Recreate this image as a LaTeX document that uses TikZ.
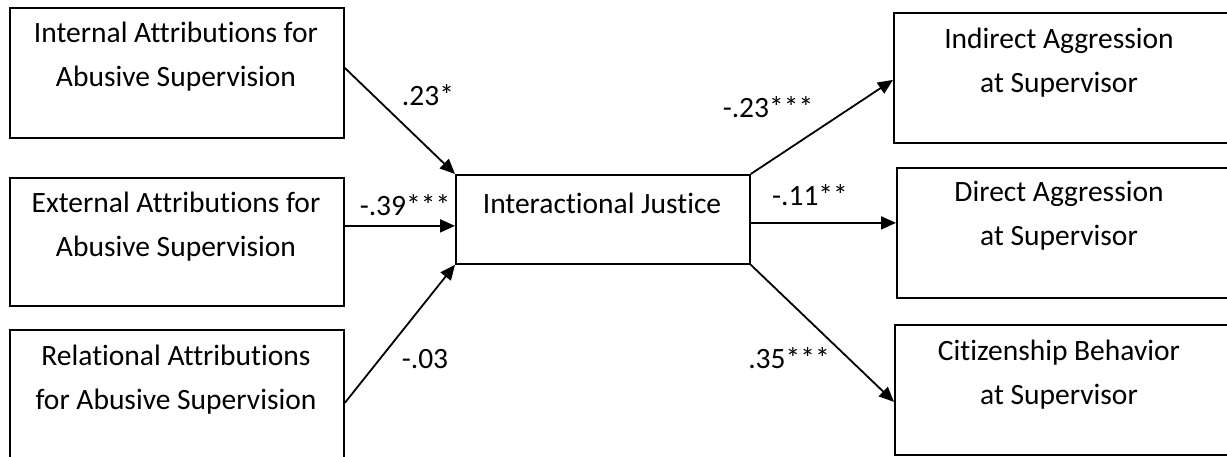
\documentclass[tikz,border=0pt]{standalone}
\usepackage{fontspec}
\setmainfont{Carlito}[Ligatures={NoCommon}]
\usetikzlibrary{arrows.meta,calc}

\tikzset{
  varbox/.style={draw, line width=1.8pt, rectangle, anchor=north west, inner sep=0pt},
  boxtext/.style={align=center, inner sep=0pt, font=\fontsize{29.5}{44}\selectfont},
  coef/.style={inner sep=0pt, font=\fontsize{29.5}{32}\selectfont},
  path arrow/.style={line width=1.8pt, -{Triangle[length=15pt,width=13pt]}},
}

\begin{document}
\begin{tikzpicture}[x=1pt,y=-1pt]
\useasboundingbox (0,0) rectangle (1227,457);

% predictors
\node[varbox, minimum width=334pt, minimum height=130pt] (intbox) at (9,7) {};
\node[boxtext] (inttxt) at (176,57) {Internal Attributions for\\Abusive Supervision};

\node[varbox, minimum width=334pt, minimum height=128pt] (extbox) at (9,177) {};
\node[boxtext] (exttxt) at (176,227) {External Attributions for\\Abusive Supervision};

\node[varbox, minimum width=334pt, minimum height=132pt] (relbox) at (9,329) {};
\node[boxtext] (reltxt) at (176,380) {Relational Attributions\\for Abusive Supervision};

% mediator
\node[varbox, minimum width=294pt, minimum height=89pt] (jus) at (455,174) {};
\node[boxtext] (justxt) at (602,203) {Interactional Justice};

% outcomes
\node[varbox, minimum width=340pt, minimum height=130pt] (indbox) at (893,12) {};
\node[boxtext] (indtxt) at (1059,63) {Indirect Aggression\\at Supervisor};

\node[varbox, minimum width=340pt, minimum height=130pt] (dirbox) at (896,167) {};
\node[boxtext] (dirtxt) at (1059,216) {Direct Aggression\\at Supervisor};

\node[varbox, minimum width=340pt, minimum height=130pt] (citbox) at (894,324) {};
\node[boxtext] (cittxt) at (1059,375) {Citizenship Behavior\\at Supervisor};

% paths into the mediator
\coordinate (a1) at ($(intbox.east)+(0,-5)$);
\draw[path arrow] (a1) -- (jus.north west);
\coordinate (a2) at ($(extbox.east)+(0,-16)$);
\draw[path arrow] (a2) -- (a2 -| jus.west);
\coordinate (a3) at ($(relbox.east)+(0,7)$);
\draw[path arrow] (a3) -- (jus.south west);

% paths out of the mediator
\draw[path arrow] (jus.north east) -- ($(indbox.west)+(0,2)$);
\coordinate (b2) at ($(dirbox.west)+(0,-10)$);
\draw[path arrow] (b2 -| jus.east) -- (b2);
\draw[path arrow] (jus.south east) -- ($(citbox.west)+(0,12)$);

% coefficients
\node[coef] (c1) at (428,95) {.23*};
\node[coef] (c2) at (405,205) {-.39***};
\node[coef] (c3) at (425,359) {-.03};
\node[coef] (c4) at (768,107) {-.23***};
\node[coef] (c5) at (810,195) {-.11**};
\node[coef] (c6) at (789,358) {.35***};
\end{tikzpicture}
\end{document}
